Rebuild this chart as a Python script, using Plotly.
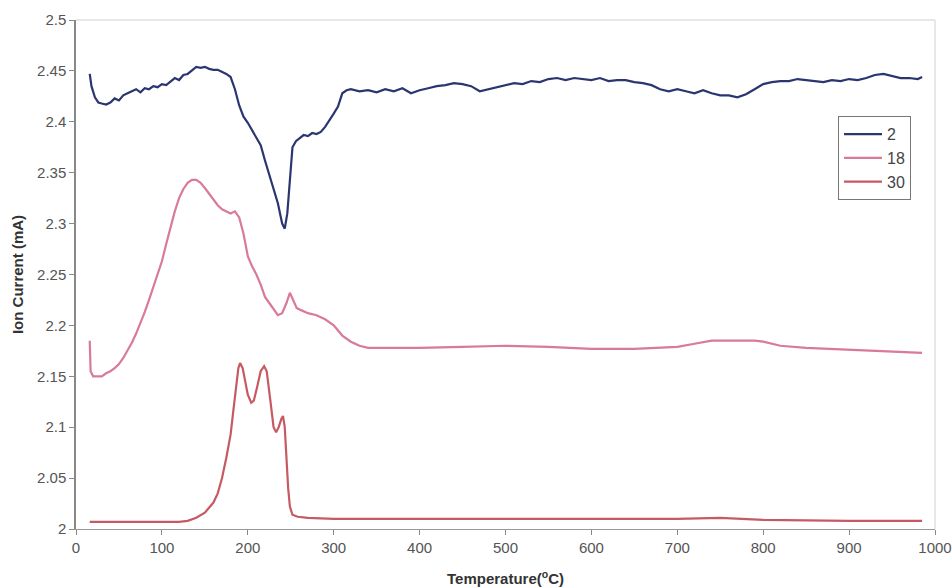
import plotly.graph_objects as go

# Series 2 (navy)
t2 = [16, 18, 22, 26, 30, 35, 40, 45, 50, 55, 60, 65, 70, 75, 80, 85, 90, 95, 100, 105,
      110, 115, 120, 125, 130, 135, 140, 145, 150, 155, 160, 165, 170, 175, 180, 185, 190,
      195, 200, 205, 210, 215, 220, 225, 230, 235, 240, 243, 246, 249, 252, 256, 260, 265,
      270, 275, 280, 285, 290, 295, 300, 305, 310, 315, 320, 330, 340, 350, 360, 370, 380,
      390, 400, 410, 420, 430, 440, 450, 460, 470, 480, 490, 500, 510, 520, 530, 540, 550,
      560, 570, 580, 590, 600, 610, 620, 630, 640, 650, 660, 670, 680, 690, 700, 710, 720,
      730, 740, 750, 760, 770, 780, 790, 800, 810, 820, 830, 840, 850, 860, 870, 880, 890,
      900, 910, 920, 930, 940, 950, 960, 970, 980, 985]
i2 = [2.447, 2.435, 2.424, 2.419, 2.418, 2.417, 2.419, 2.423, 2.421, 2.426, 2.428, 2.430,
      2.432, 2.429, 2.433, 2.432, 2.435, 2.434, 2.437, 2.436, 2.440, 2.443, 2.441, 2.446,
      2.447, 2.451, 2.454, 2.453, 2.454, 2.452, 2.451, 2.451, 2.449, 2.447, 2.444, 2.432,
      2.416, 2.405, 2.399, 2.392, 2.385, 2.377, 2.362, 2.348, 2.335, 2.320, 2.300, 2.295,
      2.310, 2.345, 2.375, 2.381, 2.384, 2.387, 2.386, 2.389, 2.388, 2.390, 2.395, 2.401,
      2.408, 2.415, 2.428, 2.431, 2.432, 2.430, 2.431, 2.429, 2.432, 2.430, 2.433, 2.428,
      2.431, 2.433, 2.435, 2.436, 2.438, 2.437, 2.435, 2.430, 2.432, 2.434, 2.436, 2.438,
      2.437, 2.440, 2.439, 2.442, 2.443, 2.441, 2.443, 2.442, 2.441, 2.443, 2.440, 2.441,
      2.441, 2.439, 2.438, 2.436, 2.432, 2.430, 2.432, 2.430, 2.428, 2.431, 2.428, 2.426,
      2.426, 2.424, 2.427, 2.432, 2.437, 2.439, 2.440, 2.440, 2.442, 2.441, 2.440, 2.439,
      2.441, 2.440, 2.442, 2.441, 2.443, 2.446, 2.447, 2.445, 2.443, 2.443, 2.442, 2.444]

# Series 18 (pink)
t18 = [16, 17, 20, 25, 30, 35, 40, 45, 50, 55, 60, 65, 70, 75, 80, 85, 90, 95, 100, 105,
       110, 115, 120, 125, 130, 135, 140, 145, 150, 155, 160, 165, 170, 175, 180, 185, 190,
       195, 200, 205, 210, 215, 220, 225, 230, 235, 240, 245, 249, 253, 257, 262, 270, 280,
       290, 300, 310, 320, 330, 340, 350, 400, 450, 500, 550, 600, 650, 700, 720, 740, 760,
       790, 800, 820, 850, 900, 950, 985]
i18 = [2.185, 2.155, 2.150, 2.150, 2.150, 2.153, 2.155, 2.158, 2.162, 2.168, 2.175, 2.183,
       2.192, 2.202, 2.213, 2.225, 2.238, 2.250, 2.263, 2.280, 2.297, 2.312, 2.325, 2.334,
       2.340, 2.343, 2.343, 2.340, 2.335, 2.329, 2.324, 2.318, 2.314, 2.312, 2.310, 2.312,
       2.306, 2.290, 2.268, 2.258, 2.250, 2.240, 2.228, 2.222, 2.216, 2.210, 2.212, 2.222,
       2.232, 2.225, 2.217, 2.215, 2.212, 2.210, 2.206, 2.200, 2.190, 2.184, 2.180, 2.178,
       2.178, 2.178, 2.179, 2.180, 2.179, 2.177, 2.177, 2.179, 2.182, 2.185, 2.185, 2.185,
       2.184, 2.180, 2.178, 2.176, 2.174, 2.173]

# Series 30 (red)
t30 = [16, 50, 100, 120, 130, 140, 150, 160, 165, 170, 175, 180, 183, 186, 189, 191, 194,
       197, 200, 204, 207, 211, 215, 219, 222, 226, 230, 233, 236, 239, 241, 243, 245, 247,
       249, 252, 258, 270, 300, 400, 500, 600, 700, 750, 800, 900, 985]
i30 = [2.007, 2.007, 2.007, 2.007, 2.008, 2.011, 2.016, 2.026, 2.035, 2.050, 2.070, 2.093,
       2.115, 2.140, 2.158, 2.163, 2.158, 2.145, 2.132, 2.124, 2.126, 2.140, 2.155, 2.160,
       2.155, 2.128, 2.100, 2.095, 2.100, 2.108, 2.111, 2.100, 2.065, 2.040, 2.022, 2.014,
       2.012, 2.011, 2.010, 2.010, 2.010, 2.010, 2.010, 2.011, 2.009, 2.008, 2.008]

series_names = ["2", "18", "30"]
colors = ["#2b3670", "#d97a98", "#c65a63"]
x_ticks = list(range(0, 1001, 100))
y_ticks = [2, 2.05, 2.1, 2.15, 2.2, 2.25, 2.3, 2.35, 2.4, 2.45, 2.5]
y_labels = ["2", "2.05", "2.1", "2.15", "2.2", "2.25", "2.3", "2.35", "2.4", "2.45", "2.5"]

fig = go.Figure()
for name, t, v, c in zip(series_names, [t2, t18, t30], [i2, i18, i30], colors):
    fig.add_trace(go.Scatter(x=t, y=v, mode="lines", name=name,
                             line=dict(color=c, width=2.2)))

font = "Liberation Sans, Arial, sans-serif"
fig.update_layout(
    width=952, height=588,
    margin=dict(l=76, r=17, t=20, b=59),
    paper_bgcolor="white", plot_bgcolor="white",
    font=dict(family=font, size=15, color="#555"),
    showlegend=True,
    legend=dict(x=0.8871, y=0.811, xanchor="left", yanchor="top",
                bordercolor="#777", borderwidth=1, bgcolor="white",
                font=dict(size=16, color="#444"), tracegroupgap=0, itemwidth=38),
    xaxis=dict(range=[0, 1000], tickvals=x_ticks, automargin=False,
               ticks="outside", ticklen=5, tickcolor="#888",
               showline=True, linecolor="#999", linewidth=1, showgrid=False,
               zeroline=False,
               title=dict(text="<b>Temperature(<sup>o</sup>C)</b>",
                          font=dict(size=15, color="#333"), standoff=18)),
    yaxis=dict(range=[2, 2.5], tickvals=y_ticks, ticktext=y_labels, automargin=False,
               ticks="outside", ticklen=5, tickcolor="#888",
               showline=True, linecolor="#888", linewidth=1.5, showgrid=False,
               zeroline=False,
               title=dict(text="<b>Ion Current (mA)</b>",
                          font=dict(size=15, color="#333"), standoff=10)),
)
# light top and right frame
fig.add_shape(type="line", xref="paper", yref="paper", x0=0, x1=1, y0=1, y1=1,
              line=dict(color="#d0d0d0", width=1))
fig.add_shape(type="line", xref="paper", yref="paper", x0=1, x1=1, y0=0, y1=1,
              line=dict(color="#d0d0d0", width=1))

fig.write_html("out.html")
